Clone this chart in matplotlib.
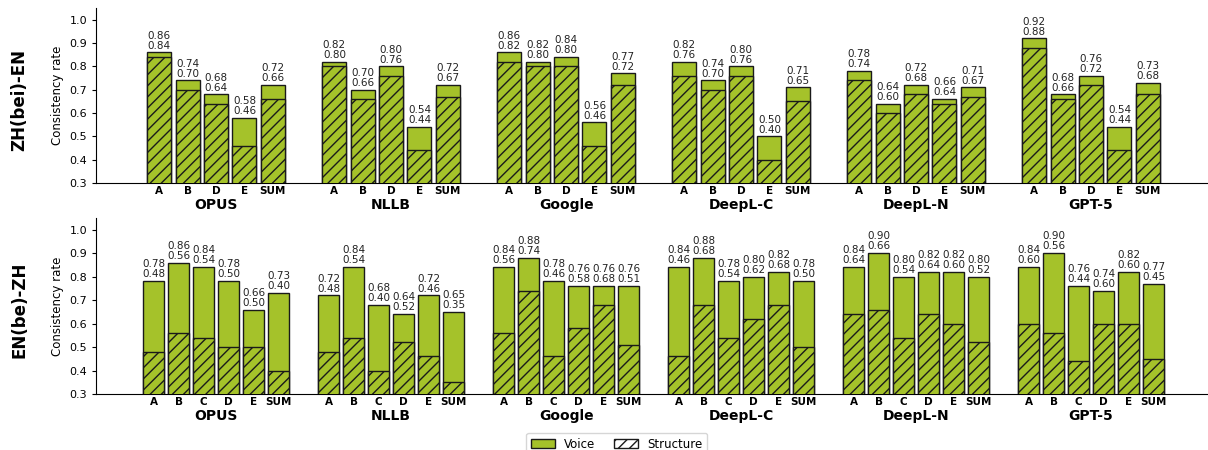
import numpy as np
import matplotlib
matplotlib.use("Agg")
import matplotlib.pyplot as plt
from matplotlib.patches import Patch

systems = ["OPUS", "NLLB", "Google", "DeepL-C", "DeepL-N", "GPT-5"]

# ZH(bei)-EN : categories A, B, D, E, SUM
top_cats = ["A", "B", "D", "E", "SUM"]
top_voice = [
    [0.86, 0.74, 0.68, 0.58, 0.72],
    [0.82, 0.70, 0.80, 0.54, 0.72],
    [0.86, 0.82, 0.84, 0.56, 0.77],
    [0.82, 0.74, 0.80, 0.50, 0.71],
    [0.78, 0.64, 0.72, 0.66, 0.71],
    [0.92, 0.68, 0.76, 0.54, 0.73],
]
top_struct = [
    [0.84, 0.70, 0.64, 0.46, 0.66],
    [0.80, 0.66, 0.76, 0.44, 0.67],
    [0.82, 0.80, 0.80, 0.46, 0.72],
    [0.76, 0.70, 0.76, 0.40, 0.65],
    [0.74, 0.60, 0.68, 0.64, 0.67],
    [0.88, 0.66, 0.72, 0.44, 0.68],
]

# EN(be)-ZH : categories A, B, C, D, E, SUM
bot_cats = ["A", "B", "C", "D", "E", "SUM"]
bot_voice = [
    [0.78, 0.86, 0.84, 0.78, 0.66, 0.73],
    [0.72, 0.84, 0.68, 0.64, 0.72, 0.65],
    [0.84, 0.88, 0.78, 0.76, 0.76, 0.76],
    [0.84, 0.88, 0.78, 0.80, 0.82, 0.78],
    [0.84, 0.90, 0.80, 0.82, 0.82, 0.80],
    [0.84, 0.90, 0.76, 0.74, 0.82, 0.77],
]
bot_struct = [
    [0.48, 0.56, 0.54, 0.50, 0.50, 0.40],
    [0.48, 0.54, 0.40, 0.52, 0.46, 0.35],
    [0.56, 0.74, 0.46, 0.58, 0.68, 0.51],
    [0.46, 0.68, 0.54, 0.62, 0.68, 0.50],
    [0.64, 0.66, 0.54, 0.64, 0.60, 0.52],
    [0.60, 0.56, 0.44, 0.60, 0.60, 0.45],
]

GREEN = "#a5c22a"
EDGE = "#1a1a1a"


def draw_row(ax, cats, voice, struct, step, width):
    n = len(cats)
    offsets = (np.arange(n) - (n - 1) / 2) * step
    ticks, labels = [], []
    for g, name in enumerate(systems):
        xs = g + offsets
        ax.bar(xs, voice[g], width, color=GREEN, edgecolor=EDGE, linewidth=1.0, zorder=2)
        ax.bar(xs, struct[g], width, color=GREEN, edgecolor=EDGE, linewidth=1.0,
               hatch="///", zorder=3)
        for x, v, s in zip(xs, voice[g], struct[g]):
            ax.text(x, v + 0.008, f"{v:.2f}\n{s:.2f}", ha="center", va="bottom",
                    fontsize=7.5, linespacing=1.0, color="#222222")
        ticks.extend(xs)
        labels.extend(cats)
        ax.annotate(name, xy=(g, 0), xycoords=("data", "axes fraction"),
                    xytext=(0, -11), textcoords="offset points",
                    ha="center", va="top", fontsize=10, fontweight="bold")
    ax.set_xticks(ticks)
    ax.set_xticklabels(labels, fontsize=7.5, fontweight="bold")
    ax.tick_params(axis="x", length=0, pad=2)
    ax.tick_params(axis="y", labelsize=8, length=3)
    ax.set_ylim(0.3, 1.05)
    ax.set_yticks(np.arange(0.3, 1.01, 0.1))
    ax.set_yticklabels([f"{t:.1f}" for t in np.arange(0.3, 1.01, 0.1)])
    ax.set_xlim(-0.686, 5.668)
    ax.set_ylabel("Consistency rate", fontsize=8.5, labelpad=4)
    for side in ["top", "right"]:
        ax.spines[side].set_visible(False)


fig = plt.figure(figsize=(12.08, 4.5), dpi=100)
ax1 = fig.add_axes([0.0795, 0.593, 0.9205, 0.389])
ax2 = fig.add_axes([0.0795, 0.1244, 0.9205, 0.3912])

draw_row(ax1, top_cats, top_voice, top_struct, 0.162, 0.137)
draw_row(ax2, bot_cats, bot_voice, bot_struct, 0.143, 0.121)

fig.text(0.016, 0.778, "ZH(bei)-EN", rotation=90, ha="center", va="center",
         fontsize=12, fontweight="bold")
fig.text(0.016, 0.311, "EN(be)-ZH", rotation=90, ha="center", va="center",
         fontsize=12, fontweight="bold")

handles = [Patch(facecolor=GREEN, edgecolor=EDGE, label="Voice"),
           Patch(facecolor="white", edgecolor=EDGE, hatch="///", label="Structure")]
fig.legend(handles=handles, loc="upper center", bbox_to_anchor=(0.5105, 0.038),
           ncol=2, fontsize=8.5, frameon=True, handlelength=2.0, columnspacing=1.6,
           borderaxespad=0.0)

fig.savefig("out.png", dpi=100)
